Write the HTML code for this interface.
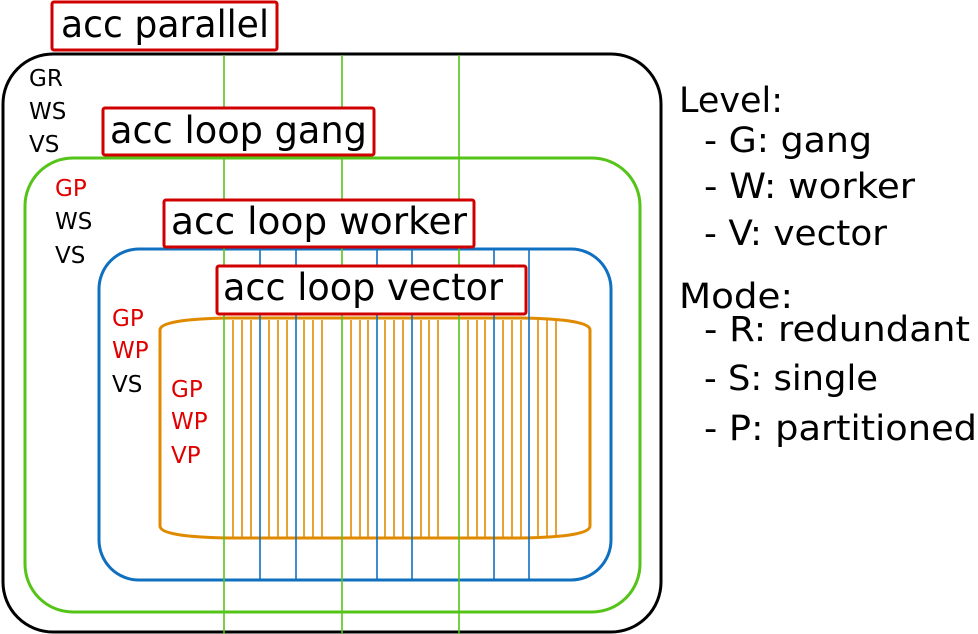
<!DOCTYPE html>
<html><head><meta charset="utf-8"><style>
html,body{margin:0;padding:0;background:#fff;}
svg{display:block;}
text{font-family:"DejaVu Sans","Liberation Sans",sans-serif;}
</style></head><body>
<svg width="978" height="634" viewBox="0 0 978 634" xmlns="http://www.w3.org/2000/svg">
<rect x="3" y="54" width="658" height="578" rx="50" fill="#fff" stroke="#000" stroke-width="3"/>
<rect x="25" y="158" width="615" height="454" rx="48" fill="#fff" stroke="#55c418" stroke-width="3"/>
<rect x="99" y="249" width="512" height="331" rx="40" fill="#fff" stroke="#1070c0" stroke-width="3"/>
<path d="M160 330 Q160 319 230 318 L520 318 Q590 319 590 330 L590 526 Q590 537 520 538 L230 538 Q160 537 160 526 Z" fill="#fff" stroke="#e08a00" stroke-width="3"/>
<g stroke="#e08a00" stroke-width="1.6">
<line x1="233" y1="320" x2="233" y2="537"/><line x1="242" y1="320" x2="242" y2="537"/><line x1="251" y1="320" x2="251" y2="537"/>
<line x1="269" y1="320" x2="269" y2="537"/><line x1="278" y1="320" x2="278" y2="537"/><line x1="287" y1="320" x2="287" y2="537"/>
<line x1="304" y1="320" x2="304" y2="537"/><line x1="313" y1="320" x2="313" y2="537"/><line x1="322" y1="320" x2="322" y2="537"/>
<line x1="351" y1="320" x2="351" y2="537"/><line x1="360" y1="320" x2="360" y2="537"/><line x1="368" y1="320" x2="368" y2="537"/>
<line x1="385" y1="320" x2="385" y2="537"/><line x1="394" y1="320" x2="394" y2="537"/><line x1="403" y1="320" x2="403" y2="537"/>
<line x1="421" y1="320" x2="421" y2="537"/><line x1="429" y1="320" x2="429" y2="537"/><line x1="438" y1="320" x2="438" y2="537"/>
<line x1="468" y1="320" x2="468" y2="537"/><line x1="477" y1="320" x2="477" y2="537"/><line x1="485" y1="320" x2="485" y2="537"/>
<line x1="503" y1="320" x2="503" y2="537"/><line x1="512" y1="320" x2="512" y2="537"/><line x1="521" y1="320" x2="521" y2="537"/>
<line x1="538" y1="320" x2="538" y2="537"/><line x1="547" y1="320" x2="547" y2="537"/><line x1="556" y1="320" x2="556" y2="537"/>
</g>
<g stroke="#1070c0" stroke-width="1.6">
<line x1="260" y1="250" x2="260" y2="579"/><line x1="296" y1="250" x2="296" y2="579"/>
<line x1="377" y1="250" x2="377" y2="579"/><line x1="412" y1="250" x2="412" y2="579"/>
<line x1="494" y1="250" x2="494" y2="579"/><line x1="529" y1="250" x2="529" y2="579"/>
</g>
<g stroke="#55c418" stroke-width="1.6">
<line x1="224" y1="55" x2="224" y2="634"/><line x1="342" y1="55" x2="342" y2="634"/><line x1="459" y1="55" x2="459" y2="634"/>
</g>
<g fill="#fff" stroke="#d00000" stroke-width="3">
<rect x="52" y="2" width="225" height="48" rx="2"/>
<rect x="103" y="108" width="271" height="47" rx="2"/>
<rect x="164" y="200" width="310" height="47" rx="2"/>
<rect x="217" y="266" width="309" height="48" rx="2"/>
</g>
<g font-size="37" fill="#000">
<text x="61" y="37" textLength="208" lengthAdjust="spacingAndGlyphs">acc parallel</text>
<text x="110" y="143" textLength="257" lengthAdjust="spacingAndGlyphs">acc loop gang</text>
<text x="171" y="234" textLength="296" lengthAdjust="spacingAndGlyphs">acc loop worker</text>
<text x="223" y="300" textLength="280" lengthAdjust="spacingAndGlyphs">acc loop vector</text>
</g>
<g font-size="23">
<text x="29" y="86" fill="#000">GR</text>
<text x="29" y="119" fill="#000">WS</text>
<text x="29" y="152" fill="#000">VS</text>
<text x="55" y="196" fill="#e00000">GP</text>
<text x="55" y="229" fill="#000">WS</text>
<text x="55" y="263" fill="#000">VS</text>
<text x="112" y="326" fill="#e00000">GP</text>
<text x="112" y="358" fill="#e00000">WP</text>
<text x="112" y="392" fill="#000">VS</text>
<text x="171" y="397" fill="#e00000">GP</text>
<text x="171" y="429" fill="#e00000">WP</text>
<text x="171" y="463" fill="#e00000">VP</text>
</g>
<g font-size="35" fill="#000" lengthAdjust="spacingAndGlyphs">
<text x="679" y="112" textLength="104" lengthAdjust="spacingAndGlyphs">Level:</text>
<text x="704" y="152" textLength="168" lengthAdjust="spacingAndGlyphs">- G: gang</text>
<text x="704" y="198" textLength="211" lengthAdjust="spacingAndGlyphs">- W: worker</text>
<text x="704" y="245" textLength="183" lengthAdjust="spacingAndGlyphs">- V: vector</text>
<text x="679" y="308" textLength="114" lengthAdjust="spacingAndGlyphs">Mode:</text>
<text x="704" y="341" textLength="266" lengthAdjust="spacingAndGlyphs">- R: redundant</text>
<text x="704" y="390" textLength="174" lengthAdjust="spacingAndGlyphs">- S: single</text>
<text x="704" y="440" textLength="273" lengthAdjust="spacingAndGlyphs">- P: partitioned</text>
</g>
</svg>
</body></html>
